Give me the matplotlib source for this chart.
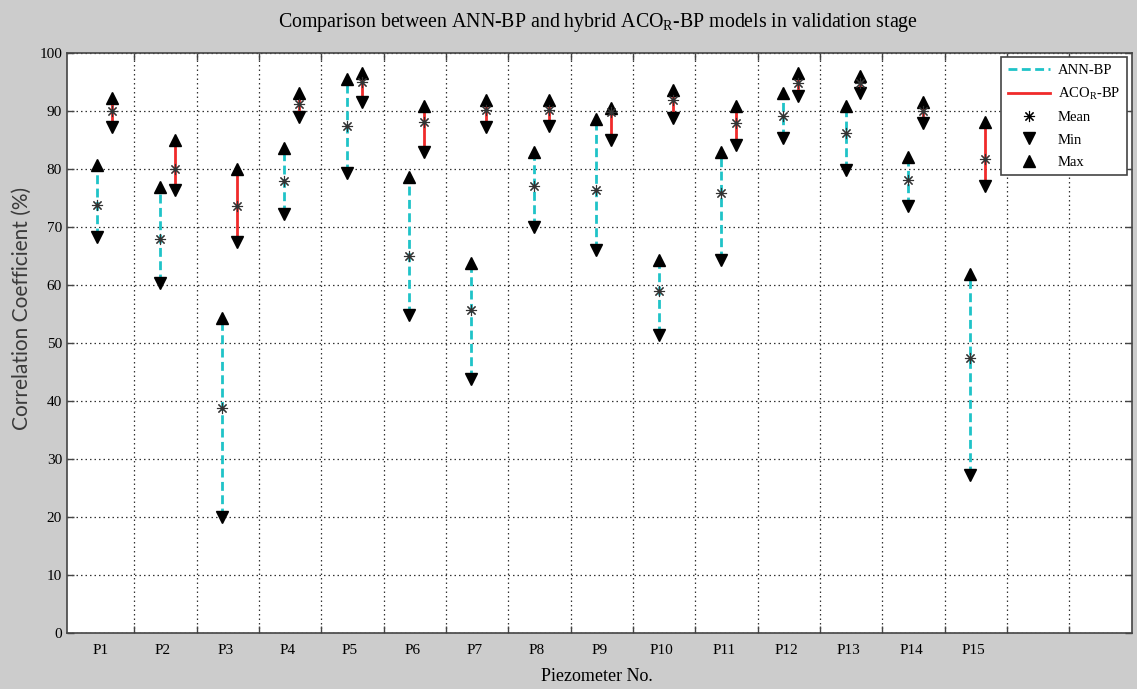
import numpy as np
import matplotlib
matplotlib.use("Agg")
import matplotlib.pyplot as plt
from matplotlib.lines import Line2D

plt.rcParams["font.family"] = ["Liberation Serif", "DejaVu Serif"]
plt.rcParams["mathtext.fontset"] = "custom"
plt.rcParams["mathtext.rm"] = "Liberation Serif"
plt.rcParams["mathtext.it"] = "Liberation Serif:italic"

# 読み取り値（相関係数 %）
labels = [f"P{i}" for i in range(1, 16)]
ann_min = [68.2, 60.3, 19.9, 72.2, 79.2, 54.7, 43.7, 70.0, 65.9, 51.3, 64.3, 85.2, 79.7, 73.5, 27.3]
ann_mean = [73.7, 67.8, 38.8, 77.8, 87.3, 65.0, 55.6, 77.0, 76.3, 58.9, 75.8, 89.1, 86.1, 78.0, 47.4]
ann_max = [80.7, 76.9, 54.3, 83.6, 95.4, 78.6, 63.7, 82.9, 88.5, 64.2, 82.9, 93.1, 90.7, 82.0, 61.8]
aco_min = [87.2, 76.3, 67.4, 88.9, 91.5, 82.9, 87.1, 87.3, 85.0, 88.7, 84.1, 92.5, 93.0, 87.8, 77.0]
aco_mean = [89.9, 80.0, 73.6, 91.2, 95.0, 88.1, 90.1, 90.1, 89.8, 91.8, 87.9, 94.8, 94.8, 89.9, 81.6]
aco_max = [92.1, 85.0, 80.0, 93.0, 96.5, 90.8, 91.8, 91.8, 90.4, 93.5, 90.7, 96.4, 95.9, 91.4, 88.1]

CYAN = "#1fc3c8"
RED = "#f02a2a"
DASH = (0, (3.2, 1.6))

idx = np.arange(1, 16)
x_ann = idx - 0.59
x_aco = idx - 0.35

fig = plt.figure(figsize=(11.37, 6.89), dpi=100, facecolor="#cccccc")
ax = fig.add_axes([0.0589, 0.0813, 0.9364, 0.8425])

for x, lo, hi in zip(x_ann, ann_min, ann_max):
    ax.plot([x, x], [lo, hi], color=CYAN, lw=2, ls=DASH, zorder=3)
for x, lo, hi in zip(x_aco, aco_min, aco_max):
    ax.plot([x, x], [lo, hi], color=RED, lw=2, ls="-", zorder=3)

for xs, mn, me, mx in ((x_ann, ann_min, ann_mean, ann_max), (x_aco, aco_min, aco_mean, aco_max)):
    ax.plot(xs, mn, "v", color="black", ms=8, ls="none", zorder=4)
    ax.plot(xs, mx, "^", color="black", ms=8, ls="none", zorder=4)
    ax.plot(xs, me, marker=(8, 2, 0), color="#333333", ms=8, mew=0.8, ls="none", zorder=5)

ax.set_xlim(-0.079, 17)
ax.set_ylim(0, 100)
ax.set_xticks(np.arange(1, 17))
ax.set_xticklabels([])
ax.set_xticks(idx - 0.54, minor=True)
ax.set_xticklabels(labels, minor=True, fontsize=11)
ax.set_yticks(np.arange(0, 101, 10))
ax.tick_params(axis="both", which="major", direction="in", length=5, width=1,
               color="#444444", top=True, right=True, labelsize=11)
ax.tick_params(axis="x", which="minor", length=0, pad=8)
ax.grid(True, which="major", color="#333333", lw=0.9, ls=(0, (1.2, 2.4)))
for s in ax.spines.values():
    s.set_color("#444444")
    s.set_linewidth(1.2)

fig.text(0.526, 0.968, "Comparison between ANN-BP and hybrid ACO$_{\\mathrm{R}}$-BP models in validation stage",
         ha="center", va="center", fontsize=14.3)
fig.text(0.525, 0.018, "Piezometer No.", ha="center", va="center", fontsize=13)
fig.text(0.019, 0.553, "Correlation Coefficient (%)", ha="center", va="center",
         rotation=90, fontsize=15, family=["Lato", "DejaVu Sans"], color="#3a3a3a")

handles = [
    Line2D([], [], color=CYAN, lw=2, ls=DASH),
    Line2D([], [], color=RED, lw=2),
    Line2D([], [], marker=(8, 2, 0), color="black", ms=8, mew=0.8, ls="none"),
    Line2D([], [], marker="v", color="black", ms=8, ls="none"),
    Line2D([], [], marker="^", color="black", ms=8, ls="none"),
]
names = ["ANN-BP", "ACO$_{\\mathrm{R}}$-BP", "Mean", "Min", "Max"]
leg = ax.legend(handles, names, loc="upper right", bbox_to_anchor=(0.9956, 0.992),
                borderaxespad=0, fontsize=10.5, handlelength=2.9, labelspacing=0.62,
                borderpad=0.45, handletextpad=0.55, fancybox=False, framealpha=1,
                edgecolor="#444444")
leg.get_frame().set_linewidth(1.2)

fig.savefig("out.png", dpi=100, facecolor=fig.get_facecolor())
